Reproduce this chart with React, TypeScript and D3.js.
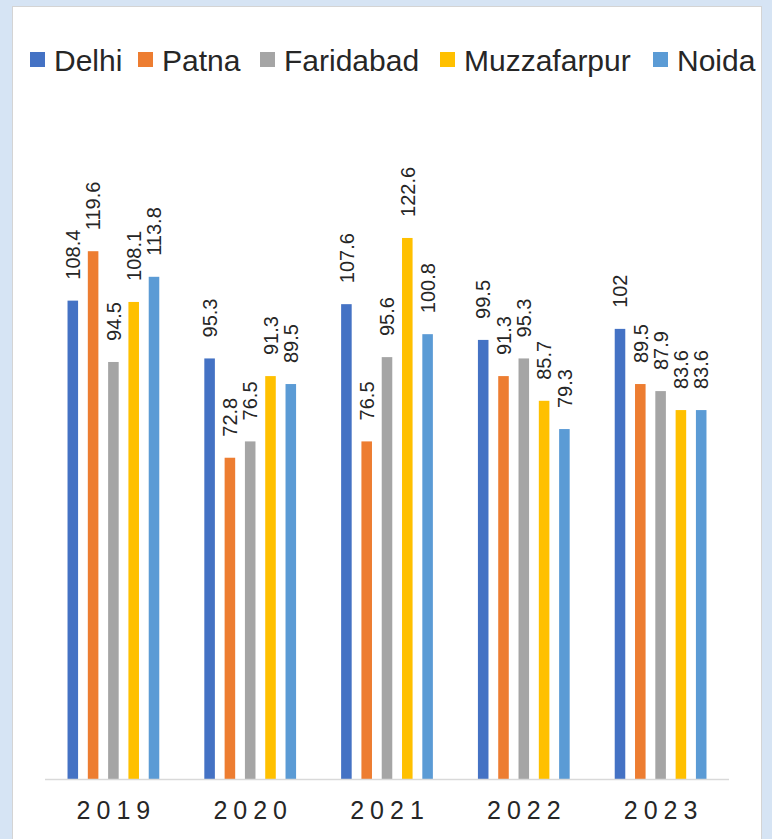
import React from "react";
import * as d3 from "d3";

const years = ["2019", "2020", "2021", "2022", "2023"];
const seriesNames = ["Delhi", "Patna", "Faridabad", "Muzzafarpur", "Noida"];
const seriesColors = ["#4472C4", "#ED7D31", "#A5A5A5", "#FFC000", "#5B9BD5"];
const delhi = [108.4, 95.3, 107.6, 99.5, 102];
const patna = [119.6, 72.8, 76.5, 91.3, 89.5];
const faridabad = [94.5, 76.5, 95.6, 95.3, 87.9];
const muzzafarpur = [108.1, 91.3, 122.6, 85.7, 83.6];
const noida = [113.8, 89.5, 100.8, 79.3, 83.6];
const seriesValues = [delhi, patna, faridabad, muzzafarpur, noida];

const W = 772;
const H = 839;
const FONT = "'Liberation Sans', Arial, sans-serif";

export default function App() {
  const x0 = d3.scaleBand<string>().domain(years).range([45, 729]);
  const x1 = d3
    .scaleBand<string>()
    .domain(seriesNames)
    .range([-50.75, 50.75])
    .paddingInner(0.48)
    .paddingOuter(0.24);
  const y = d3.scaleLinear().domain([0, 140]).range([779, 779 - 140 * 4.413]);

  const legendX = [30, 138, 260, 440, 653];

  return (
    <div style={{ position: "absolute", left: 0, top: 0 }}>
      <svg width={W} height={H} style={{ display: "block" }}>
        <rect x={0} y={0} width={W} height={H} fill="#D6E4F4" />
        <rect x={12.5} y={6.5} width={749} height={H} fill="#FFFFFF" stroke="#D4D4D4" strokeWidth={1} />
        {/* legend */}
        {seriesNames.map((s, i) => (
          <g key={s}>
            <rect x={legendX[i]} y={52} width={15} height={15} fill={seriesColors[i]} />
            <text x={legendX[i] + 24} y={71} fontFamily={FONT} fontSize={30} fill="#262626">
              {s}
            </text>
          </g>
        ))}
        {/* bars */}
        {years.map((yr, yi) => (
          <g key={yr} transform={`translate(${(x0(yr) ?? 0) + x0.bandwidth() / 2},0)`}>
            {seriesNames.map((s, si) => {
              const v = seriesValues[si][yi];
              const bx = x1(s) ?? 0;
              const cx = bx + x1.bandwidth() / 2;
              return (
                <g key={s}>
                  <rect x={bx} y={y(v)} width={x1.bandwidth()} height={y(0) - y(v)} fill={seriesColors[si]} />
                  <text
                    transform={`translate(${cx},${y(v) - 21}) rotate(-90)`}
                    dy="0.36em"
                    fontFamily={FONT}
                    fontSize={20}
                    fill="#262626"
                  >
                    {String(v)}
                  </text>
                </g>
              );
            })}
          </g>
        ))}
        {/* axis */}
        <line x1={45} x2={729} y1={779.5} y2={779.5} stroke="#D9D9D9" strokeWidth={1.5} />
        {years.map((yr) => (
          <text
            key={yr}
            x={(x0(yr) ?? 0) + x0.bandwidth() / 2 + 3}
            y={819}
            textAnchor="middle"
            fontFamily={FONT}
            fontSize={25}
            letterSpacing={6}
            fill="#262626"
          >
            {yr}
          </text>
        ))}
      </svg>
    </div>
  );
}
